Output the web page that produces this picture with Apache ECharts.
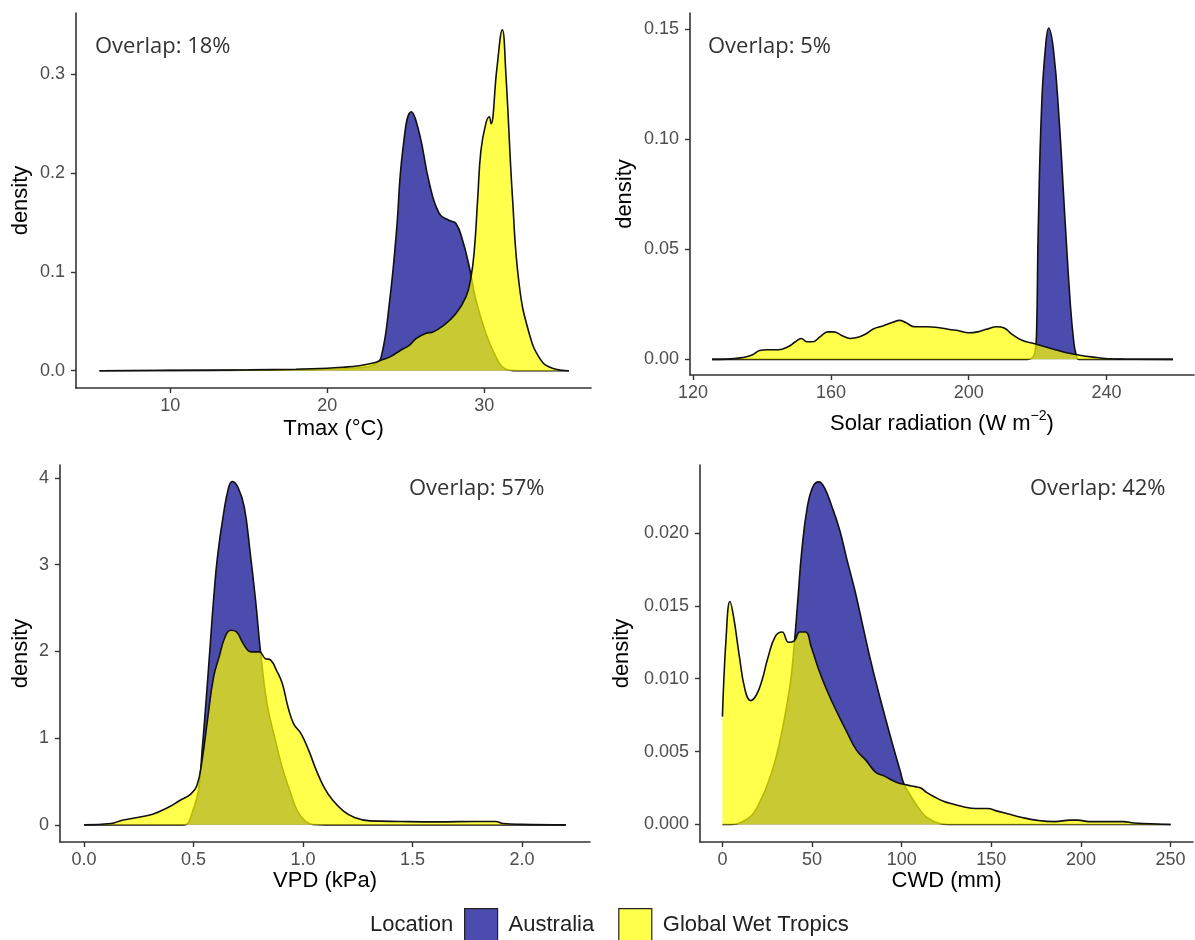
<!DOCTYPE html>
<html>
<head>
<meta charset="utf-8">
<script src="https://cdn.jsdelivr.net/npm/echarts@6/dist/echarts.min.js"></script>
<style>
html,body{margin:0;padding:0;background:#fff;}
#chart{width:1195px;height:940px;}
</style>
</head>
<body>
<div id="chart"></div>
<script>
// ---------- DATA ----------
var seriesNames = ['Australia', 'Global Wet Tropics'];
var overlapLabels = ['Overlap: 18%', 'Overlap: 5%', 'Overlap: 57%', 'Overlap: 42%'];
var xTitles = ['Tmax (°C)', 'Solar radiation', 'VPD (kPa)', 'CWD (mm)'];

// Panel 1: Tmax
var tmaxAus = [[5.5,0],[10,0.0002],[15,0.0005],[18,0.001],[20,0.0015],[22,0.003],[23,0.006],[23.44,0.014],[23.97,0.07],[24.4,0.139],[24.81,0.223],[25.35,0.262],[25.87,0.24],[26.5,0.19],[27.14,0.159],[27.78,0.152],[28.2,0.149],[28.62,0.132],[29.05,0.105],[29.47,0.0715],[30.1,0.038],[30.74,0.014],[31.14,0.004],[31.6,0.0005],[32.2,0],[35.4,0]];
var tmaxGwt = [[5.5,0],[10,0.0003],[15,0.0008],[18,0.0015],[20,0.0025],[21,0.0035],[22,0.005],[23,0.008],[23.5,0.011],[24,0.014],[24.7,0.021],[25.25,0.026],[25.7,0.033],[26.3,0.038],[26.7,0.039],[27.35,0.045],[28.2,0.058],[28.84,0.075],[29.16,0.095],[29.37,0.122],[29.58,0.173],[29.79,0.223],[30.1,0.25],[30.32,0.257],[30.43,0.25],[30.8,0.305],[31.15,0.345],[31.38,0.3],[31.8,0.175],[32.22,0.088],[32.86,0.038],[33.6,0.011],[34.34,0.0025],[35.4,0]];
// Panel 2: Solar radiation
var solarAus = [[125.5,0],[217,0],[218.6,0.001],[219.3,0.004],[219.7,0.012],[220.2,0.06],[221.25,0.118],[222.4,0.1436],[223.2,0.1505],[224.6,0.1406],[226.2,0.11],[227.9,0.065],[229.5,0.025],[230.5,0.008],[231.2,0.002],[232,0],[259.3,0]];
var solarGwt = [[125.5,0],[130,0.0001],[134.9,0.001],[137.1,0.002],[139.3,0.004],[141.5,0.0044],[144.8,0.0044],[147.5,0.0057],[149.7,0.008],[151.4,0.0095],[153,0.008],[154.7,0.008],[156.9,0.0103],[159.1,0.0125],[160.8,0.0125],[163,0.011],[165.7,0.0095],[167.9,0.01],[170.1,0.0115],[172.3,0.0138],[175.1,0.0152],[177.8,0.0167],[180,0.0177],[181.7,0.0167],[184.4,0.0148],[187.7,0.0148],[191,0.0145],[194.4,0.0136],[197.1,0.013],[199.9,0.0121],[202.6,0.0125],[205.4,0.0138],[208.1,0.0148],[210.3,0.0142],[212.5,0.0115],[215.3,0.0088],[218.6,0.0073],[221.9,0.0058],[225.2,0.0044],[228.5,0.003],[231.8,0.002],[236.2,0.001],[240.5,0.0003],[245,0.0001],[259.3,0]];
// Panel 3: VPD
var vpdAus = [[0,0],[0.45,0],[0.47,0.01],[0.496,0.16],[0.522,0.39],[0.539,0.86],[0.557,1.43],[0.574,2.01],[0.591,2.59],[0.609,3.09],[0.635,3.56],[0.661,3.9],[0.678,3.96],[0.704,3.885],[0.731,3.67],[0.757,3.17],[0.783,2.59],[0.805,2.01],[0.835,1.4],[0.87,1.01],[0.905,0.66],[0.94,0.39],[0.974,0.16],[1.009,0.046],[1.044,0.005],[1.1,0],[2.2,0]];
var vpdGwt = [[0,0],[0.122,0.015],[0.174,0.054],[0.244,0.085],[0.313,0.123],[0.383,0.2],[0.435,0.278],[0.487,0.355],[0.515,0.45],[0.539,0.75],[0.565,1.24],[0.591,1.7],[0.617,1.94],[0.644,2.17],[0.67,2.245],[0.696,2.226],[0.722,2.11],[0.748,2.01],[0.765,1.995],[0.8,1.995],[0.826,1.92],[0.852,1.9],[0.879,1.78],[0.905,1.63],[0.931,1.36],[0.957,1.165],[0.991,1.05],[1.026,0.856],[1.061,0.625],[1.096,0.432],[1.131,0.297],[1.183,0.162],[1.235,0.085],[1.305,0.046],[1.444,0.039],[1.618,0.035],[1.792,0.039],[1.879,0.039],[1.914,0.015],[2.0,0.006],[2.2,0]];
// Panel 4: CWD
var cwdAus = [[0,0],[5,0],[8.4,0.00005],[12.7,0.0003],[16.9,0.0007],[21.1,0.0016],[25.3,0.0028],[29.5,0.0044],[33.7,0.0067],[37.9,0.0097],[40.1,0.0124],[42.2,0.0156],[44.3,0.0188],[47.4,0.0218],[50.6,0.0232],[53.8,0.0235],[56.9,0.0231],[61.1,0.0218],[65.4,0.0202],[69.6,0.0181],[73.8,0.0161],[78,0.0138],[82.2,0.0115],[86.4,0.0094],[90.7,0.0074],[94.9,0.0055],[99.1,0.0037],[101.2,0.0028],[105.4,0.0019],[109.6,0.0011],[113.9,0.0005],[120.2,0.0001],[126,0],[250,0]];
var cwdGwt = [[0,0.0074],[2.1,0.0129],[4.2,0.0153],[6.3,0.0142],[9.5,0.0115],[12.7,0.0092],[15.8,0.0085],[19,0.0089],[22.1,0.0099],[25.3,0.0114],[29.5,0.0129],[33.3,0.0132],[36.9,0.0125],[40.1,0.0126],[43.2,0.0132],[46.4,0.0132],[49.5,0.0122],[53.8,0.0106],[59,0.009],[64.3,0.0076],[69.6,0.0063],[74.8,0.0051],[80.1,0.0044],[85.4,0.0036],[90.7,0.0033],[97,0.0029],[103.3,0.0027],[107.5,0.0026],[110.7,0.0025],[113.9,0.0022],[118.1,0.0019],[123.3,0.0016],[128.6,0.0014],[134.9,0.0012],[141.3,0.0011],[147.6,0.0011],[153.9,0.0009],[160.2,0.0007],[166.6,0.0005],[175,0.0003],[185.5,0.0002],[194,0.0003],[198.2,0.0003],[204.5,0.0002],[215,0.0002],[223.5,0.0002],[229.8,0.0001],[250,0]];

// Tick values
var xTicks = [[10,20,30],[120,160,200,240],[0,0.5,1.0,1.5,2.0],[0,50,100,150,200,250]];
var yTicks = [[0,0.1,0.2,0.3],[0,0.05,0.10,0.15],[0,1,2,3,4],[0,0.005,0.010,0.015,0.020]];
var xDec = [0,0,1,0];
var yDec = [1,2,0,3];

// ---------- LAYOUT / STYLE ----------
var grids = [
  {left:76, top:13, width:515, height:375},
  {left:690, top:13, width:504, height:362},
  {left:60, top:465, width:530, height:377},
  {left:700, top:465, width:493, height:377}
];
var xRange = [[4.0,36.8],[119.1,265.4],[-0.11,2.31],[-12.5,262.5]];
var yRange = [[-0.0175,0.362],[-0.0071,0.1573],[-0.1975,4.15],[-0.0012,0.02466]];
var yNameGap = [44,54,28,67];
var xNameGap = [30,34,26,24];
var overlapPos = [[95,47],[708,47],[409,489],[1030,489]];

var fillAus = 'rgba(0,0,139,0.7)';
var fillGwt = 'rgba(255,255,0,0.7)';
var axisColor = '#333333';
var labelColor = '#4d4d4d';
var fontFam = '"Liberation Sans", Arial, sans-serif';

var xAxes = [], yAxes = [], series = [], graphics = [];
var dataSets = [[tmaxAus,tmaxGwt],[solarAus,solarGwt],[vpdAus,vpdGwt],[cwdAus,cwdGwt]];

for (var i = 0; i < 4; i++) {
  (function(i){
    var xa = {
      type:'value', gridIndex:i, min:xRange[i][0], max:xRange[i][1],
      axisLine:{show:true, onZero:false, lineStyle:{color:axisColor, width:1.6}},
      axisTick:{show:true, length:5, customValues:xTicks[i], lineStyle:{color:axisColor, width:1.4}},
      axisLabel:{customValues:xTicks[i], color:labelColor, fontSize:18, fontFamily:fontFam, margin:9,
        formatter:function(v){return Number(v).toFixed(xDec[i]);}},
      splitLine:{show:false},
      name: xTitles[i], nameLocation:'middle', nameGap:xNameGap[i],
      nameTextStyle:{color:'#000', fontSize:22, fontFamily:fontFam}
    };
    if (i === 1) {
      xa.name = '{a|Solar radiation (W m}{b|\u22122}{a|)}';
      xa.nameTextStyle = {color:'#000', fontFamily:fontFam, rich:{
        a:{fontSize:22, color:'#000', fontFamily:fontFam, lineHeight:30},
        b:{fontSize:14, color:'#000', fontFamily:fontFam, lineHeight:14, verticalAlign:'top'}
      }};
    }
    xAxes.push(xa);
    yAxes.push({
      type:'value', gridIndex:i, min:yRange[i][0], max:yRange[i][1],
      axisLine:{show:true, onZero:false, lineStyle:{color:axisColor, width:1.6}},
      axisTick:{show:true, length:5, customValues:yTicks[i], lineStyle:{color:axisColor, width:1.4}},
      axisLabel:{customValues:yTicks[i], color:labelColor, fontSize:18, fontFamily:fontFam, margin:11,
        formatter:function(v){return Number(v).toFixed(yDec[i]);}},
      splitLine:{show:false},
      name:'density', nameLocation:'middle', nameGap:yNameGap[i], nameRotate:90,
      nameTextStyle:{color:'#000', fontSize:22, fontFamily:fontFam}
    });
    var fills = [fillAus, fillGwt];
    for (var s = 0; s < 2; s++) {
      series.push({
        name: seriesNames[s], type:'line', xAxisIndex:i, yAxisIndex:i,
        data: dataSets[i][s], showSymbol:false, symbol:'none',
        smooth:0.45,
        lineStyle:{color:'#111', width:1.6},
        itemStyle:{color:fills[s]},
        areaStyle:{color:fills[s], opacity:1, origin:0},
        z: 2 + s, silent:true
      });
    }
    graphics.push({
      type:'text', x:overlapPos[i][0], y:overlapPos[i][1],
      style:{text:overlapLabels[i], fill:'#333', font:'22px "Open Sans", sans-serif', textVerticalAlign:'middle'}
    });
  })(i);
}

graphics.push({
  type:'text', x:370, y:925,
  style:{text:'Location', fill:'#222', font:'22px "Liberation Sans", Arial, sans-serif', textVerticalAlign:'middle'}
});

var option = {
  animation:false,
  backgroundColor:'#fff',
  grid: grids,
  xAxis: xAxes,
  yAxis: yAxes,
  series: series,
  graphic: graphics,
  legend: {
    left:464, top:908, padding:0, orient:'horizontal', itemWidth:33, itemHeight:32, itemGap:24,
    icon:'rect', selectedMode:false,
    textStyle:{fontSize:22, color:'#222', fontFamily:fontFam, padding:[0,0,0,6]},
    data:[
      {name:'Australia', icon:'rect', itemStyle:{color:fillAus, borderColor:'#222', borderWidth:1.2}},
      {name:'Global Wet Tropics', icon:'rect', itemStyle:{color:fillGwt, borderColor:'#222', borderWidth:1.2}}
    ]
  }
};

var chart = echarts.init(document.getElementById('chart'), null, {renderer:'canvas'});
chart.setOption(option);
</script>
</body>
</html>
